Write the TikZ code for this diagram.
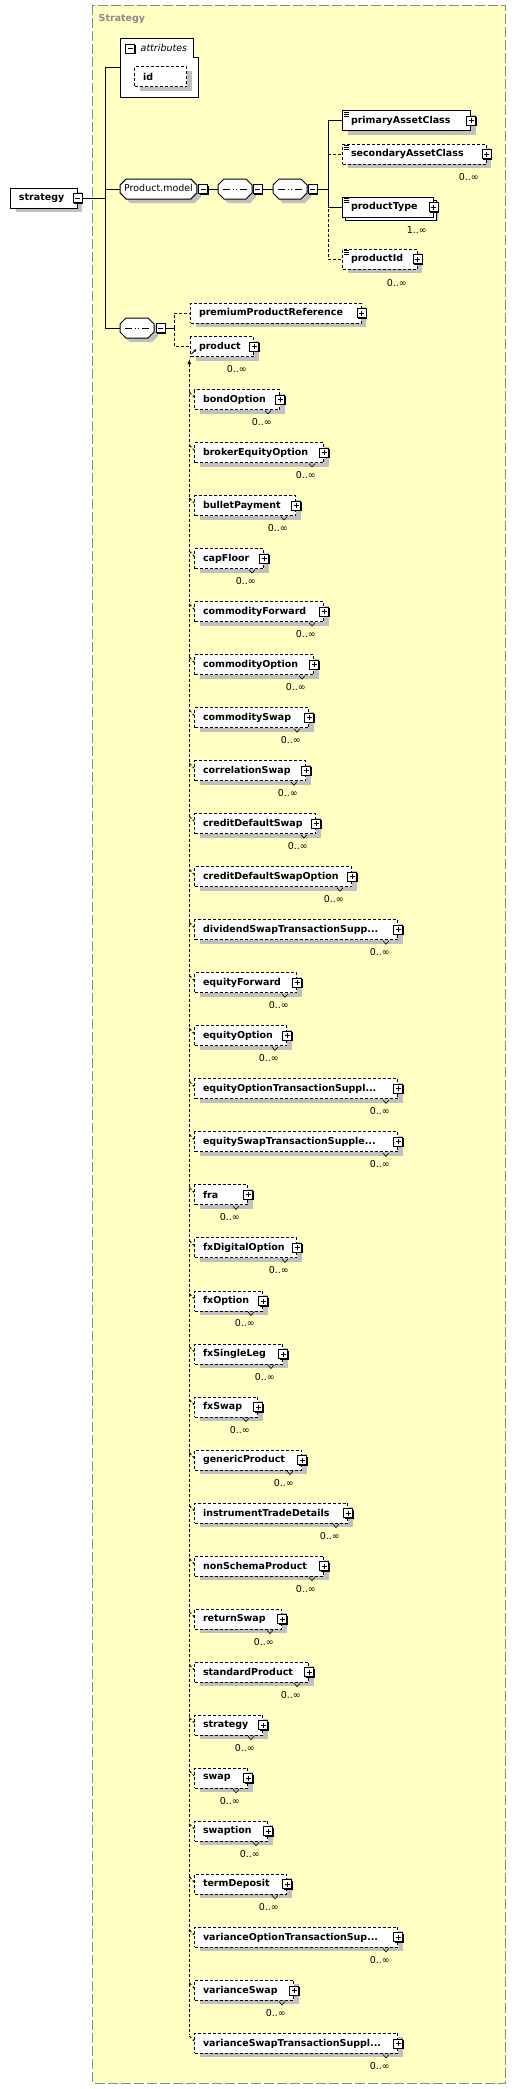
\documentclass[tikz,border=0pt]{standalone}
\usepackage{fontspec}
\setmainfont{DejaVu Sans}
\usetikzlibrary{shapes.misc,shadows,arrows.meta}
\definecolor{schemabg}{HTML}{FFFFC4}
\definecolor{shadowgray}{HTML}{C0C0C0}
\definecolor{framegray}{HTML}{8A8A8A}
\hyphenpenalty=10000

\begin{document}
\begin{tikzpicture}[
  x=1pt, y=-1pt,
  line/.style={line width=1pt},
  optline/.style={line width=1pt, dash pattern=on 3pt off 2pt},
  elbox/.style={draw, fill=white, line width=1pt, anchor=west, minimum height=20pt,
    inner xsep=8.5pt, inner ysep=0pt, text width=#1, align=left,
    font=\fontsize{9.5}{11}\selectfont\bfseries,
    drop shadow={shadow xshift=5pt, shadow yshift=-4pt, fill=shadowgray, opacity=1}},
  optbox/.style={elbox=#1, dash pattern=on 3pt off 2pt},
  simple/.style={path picture={
    \foreach \k in {1.5pt,3.5pt,5.5pt}
      \draw[solid, line width=0.7pt] ([xshift=1.5pt, yshift=-\k]path picture bounding box.north west) -- ++(5pt,0pt);}},
  compositor/.style={chamfered rectangle, chamfered rectangle xsep=3pt, chamfered rectangle ysep=3pt,
    draw, fill=white, line width=1pt, text height=7pt, text depth=2pt,
    inner xsep=1pt, inner ysep=2.5pt,
    font=\fontsize{9.5}{11}\selectfont,
    drop shadow={shadow xshift=4pt, shadow yshift=-4pt, fill=shadowgray, opacity=1}},
  seq/.style={compositor, inner xsep=14pt, path picture={
    \draw[line width=1pt] ([xshift=5pt]path picture bounding box.west) -- ([xshift=-5pt]path picture bounding box.east);
    \foreach \d in {-3.5pt,0pt,3.5pt}
      \fill ([xshift=\d-1.3pt, yshift=-1.3pt]path picture bounding box.center) rectangle ++(2.6pt,2.6pt);}},
  btn/.style={draw, fill=white, line width=0.8pt, minimum size=9pt, inner sep=0pt,
    drop shadow={shadow xshift=1pt, shadow yshift=-1pt, fill=black, opacity=1}},
  minusbtn/.style={btn, path picture={
    \draw[line width=1pt] ([xshift=2pt]path picture bounding box.west) -- ([xshift=-2pt]path picture bounding box.east);}},
  plusbtn/.style={btn, path picture={
    \draw[line width=1pt] ([xshift=2pt]path picture bounding box.west) -- ([xshift=-2pt]path picture bounding box.east);
    \draw[line width=1pt] ([yshift=2pt]path picture bounding box.south) -- ([yshift=-2pt]path picture bounding box.north);}},
  mult/.style={font=\fontsize{9.5}{11}\selectfont, inner sep=0pt, anchor=east},
  notch/.style={line width=0.6pt},
  refarrow/.style={line width=0.8pt, -{Latex[length=3pt, width=3pt]}}
]

% Frame
\fill[white] (0,0) rectangle (516,2089);
\draw[fill=schemabg, draw=framegray, line width=1pt, dash pattern=on 10pt off 3pt] (92.7,5.3) rectangle (505.7,2083);
\node[anchor=west, inner sep=0pt, text=framegray, font=\fontsize{9.5}{11}\selectfont\bfseries] (title) at (98.5,19) {Strategy};

% Root element
\node[elbox=49.5pt] (root) at (10,198) {strategy};
\node[minusbtn] (rootbtn) at (root.east) {};
\coordinate (c1) at (105,198);

% Attributes
\draw[fill=white, line width=1pt] (120,38) -- (193,38) -- (193,57) -- (198,57) -- (198,97) -- (120,97) -- cycle;
\node[minimum width=78pt, minimum height=59pt, inner sep=0pt] (attr) at (159,67.5) {};
\node[minusbtn] (attrbtn) at (130,48.5) {};
\node[anchor=west, inner sep=0pt, font=\fontsize{9.5}{11}\selectfont\itshape] (attrlbl) at (140.5,48) {attributes};
\node[optbox=35pt] (id) at (134,76.5) {id};

% Product.model group
\node[compositor] (pm) at (158.5,189) {Product.model};
\node[minusbtn] (pmbtn) at (203,189) {};
\node[seq] (seq1) at (235,189) {};
\node[minusbtn] (seq1btn) at (257.5,189) {};
\node[seq] (seq2) at (290,189) {};
\node[minusbtn] (seq2btn) at (312.5,189) {};
\coordinate (c2) at (328,189);

\node[elbox=111pt, simple] (pac) at (342,120.5) {primaryAssetClass};
\node[plusbtn] (pacbtn) at (pac.east) {};
\node[optbox=126.5pt, simple] (sac) at (342,154) {secondaryAssetClass};
\node[plusbtn] (sacbtn) at (sac.east) {};
\node[mult] (sacm) at (479,177) {0..∞};
\node[elbox=73.5pt, simple, copy shadow={shadow xshift=3pt, shadow yshift=-3pt}] (ptype) at (342,207) {productType};
\node[plusbtn] (ptypebtn) at (ptype.east) {};
\node[mult] (ptypem) at (427,230) {1..∞};
\node[optbox=57.5pt, simple] (pid) at (342,259) {productId};
\node[plusbtn] (pidbtn) at (pid.east) {};
\node[mult] (pidm) at (407,283) {0..∞};

% Product choice
\node[seq] (seq3) at (137,328) {};
\node[minusbtn] (seq3btn) at (160.5,328) {};
\coordinate (c3) at (174,328);
\node[optbox=153.5pt] (prem) at (190,313) {premiumProductReference};
\node[plusbtn] (prembtn) at (prem.east) {};
\node[optbox=46pt] (prod) at (190,346.5) {product};
\node[plusbtn] (prodbtn) at (prod.east) {};
\node[mult] (prodm) at (247,369) {0..∞};
\draw[refarrow] ([shift={(1.5,-3)}]prod.south west) -- ++(5,-5);

% Connectors
\draw[line] (rootbtn.east) -- (c1);
\draw[line] (c1) |- (attr.west);
\draw[line] (c1) |- (pm.west);
\draw[line] (c1) |- (seq3.west);
\draw[line] (pmbtn.east) -- (seq1.west);
\draw[line] (seq1btn.east) -- (seq2.west);
\draw[line] (seq2btn.east) -- (c2);
\draw[line] (c2) |- (pac.west);
\draw[optline] (c2) |- (sac.west);
\draw[line] (c2) |- (ptype.west);
\draw[optline] (c2) |- (pid.west);
\draw[line] (seq3btn.east) -- (c3);
\draw[optline] (c3) |- (prem.west);
\draw[optline] (c3) |- (prod.west);

% Substitution group of product
\coordinate (subtop) at (189.3,359);
\coordinate (subbot) at (189.3,2035);
\draw[optline, {Latex[length=5pt, width=4pt]}-] (subtop) -- (subbot);

\foreach \txt/\rt [count=\i from 0] in {
  bondOption/284, brokerEquityOption/328, bulletPayment/300, capFloor/268,
  commodityForward/328, commodityOption/318, commoditySwap/313, correlationSwap/310,
  creditDefaultSwap/320, creditDefaultSwapOption/356, {dividendSwapTransactionSupp...}/402,
  equityForward/301, equityOption/291, {equityOptionTransactionSuppl...}/402,
  {equitySwapTransactionSupple...}/402, fra/252, fxDigitalOption/301, fxOption/267,
  fxSingleLeg/287, fxSwap/262, genericProduct/306, instrumentTradeDetails/352,
  nonSchemaProduct/328, returnSwap/286, standardProduct/313, strategy/267, swap/252,
  swaption/272, termDeposit/291, {varianceOptionTransactionSup...}/402, varianceSwap/298,
  {varianceSwapTransactionSuppl...}/402}{
  \pgfmathsetmacro\ytop{389+53.03*\i}
  \pgfmathsetmacro\tw{\rt-216}
  \node[optbox=\tw pt] (s\i) at (194,\ytop+10.5) {\txt};
  \node[plusbtn] (b\i) at (s\i.east) {};
  \node[mult] (m\i) at (\rt-12,\ytop+33) {0..∞};
  \draw[notch] (\rt-19,\ytop+21.5) -- (\rt-16,\ytop+25) -- (\rt-13,\ytop+21.5);
  \draw[optline] (189.3,\ytop+3) -- ([yshift=-8pt]s\i.north west);
}

\end{tikzpicture}
\end{document}
